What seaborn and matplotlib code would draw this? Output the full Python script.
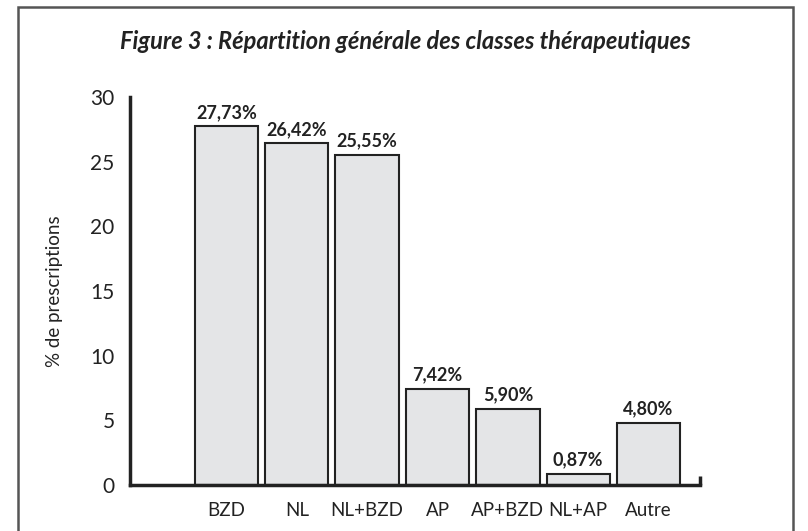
import matplotlib
matplotlib.use("Agg")
import matplotlib.pyplot as plt
import seaborn as sns
import pandas as pd
from matplotlib.patches import Rectangle

categories = ["BZD", "NL", "NL+BZD", "AP", "AP+BZD", "NL+AP", "Autre"]
values = [27.73, 26.42, 25.55, 7.42, 5.90, 0.87, 4.80]
value_labels = ["27,73%", "26,42%", "25,55%", "7,42%", "5,90%", "0,87%", "4,80%"]
y_ticks = [0, 5, 10, 15, 20, 25, 30]
title = "Figure 3 : Répartition générale des classes thérapeutiques"
ylabel = "% de prescriptions"

sns.set_style("white")
FONT = ["Lato", "DejaVu Sans"]
plt.rcParams["font.family"] = FONT

fig = plt.figure(figsize=(8.08, 5.31), dpi=100)
ax = fig.add_axes([0.1609, 0.0866, 0.7054, 0.7307])

df = pd.DataFrame({"pos": list(range(1, len(categories) + 1)), "val": values})
sns.barplot(data=df, x="pos", y="val", native_scale=True, width=0.9,
            color="#e4e5e7", edgecolor="#222222", linewidth=1.5, saturation=1, ax=ax)

ax.set_xlim(-0.37, 7.73)
ax.set_ylim(0, 30)
ax.set_xticks(list(range(1, len(categories) + 1)))
ax.set_xticklabels(categories, fontsize=13.5, color="#222222")
ax.set_yticks(y_ticks)
ax.set_yticklabels([str(t) for t in y_ticks], fontsize=15, color="#222222")
ax.tick_params(axis="x", length=0, pad=12)
ax.tick_params(axis="y", direction="in", length=14, width=2.2, color="#222222", pad=11)
ax.set_xlabel("")
ax.set_ylabel(ylabel, fontsize=13.5, color="#222222")
ax.yaxis.set_label_coords(-0.118, 0.5)

for s in ["top", "right"]:
    ax.spines[s].set_visible(False)
for s in ["left", "bottom"]:
    ax.spines[s].set_linewidth(2.5)
    ax.spines[s].set_color("#222222")
ax.plot([1, 1], [0, 0.024], transform=ax.transAxes, color="#222222",
        lw=2.5, clip_on=False, solid_capstyle="butt")

for p, v, lab in zip(df["pos"], values, value_labels):
    ax.annotate(lab, (p, v), xytext=(0, 4), textcoords="offset points",
                ha="center", va="bottom", fontsize=13, fontweight="bold",
                color="#222222")

fig.text(0.5015, 0.921, title, ha="center", va="center", fontsize=17,
         fontweight="bold", fontstyle="italic", color="#222222")

fig.patches.append(Rectangle((18 / 808, -0.05), (793 - 18) / 808, 1.05 - 7 / 531,
                             transform=fig.transFigure, fill=False,
                             edgecolor="#555555", linewidth=1.8))

fig.savefig("out.png", dpi=100)
